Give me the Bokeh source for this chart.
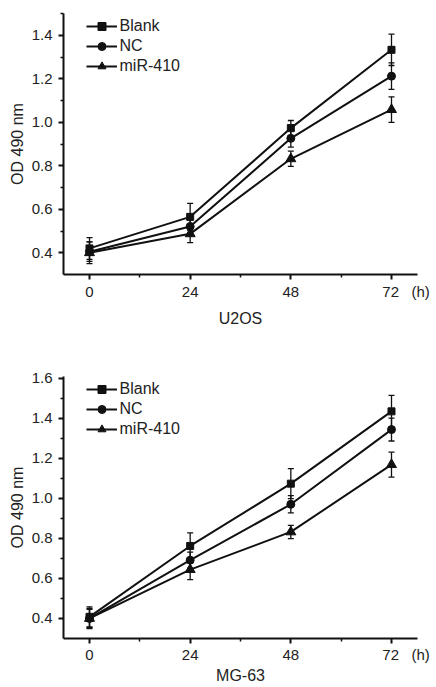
from bokeh.plotting import figure
from bokeh.models import (FixedTicker, Whisker, ColumnDataSource, Legend,
                          LegendItem, TeeHead, PrintfTickFormatter)
from bokeh.layouts import column
from bokeh.embed import file_html
from bokeh.resources import INLINE

hours = [0, 24, 48, 72]
series_names = ["Blank", "NC", "miR-410"]
markers = ["square", "circle", "triangle"]
marker_sizes = [7, 8, 10]

x_ticks = [0, 24, 48, 72]
x_minor = [12, 36, 60]
x_unit_label = "(h)"

# U2OS
u2os_blank = [0.420, 0.565, 0.973, 1.333]
u2os_blank_err = [0.050, 0.062, 0.035, 0.072]
u2os_nc = [0.405, 0.521, 0.926, 1.212]
u2os_nc_err = [0.045, 0.030, 0.040, 0.061]
u2os_mir = [0.400, 0.487, 0.832, 1.058]
u2os_mir_err = [0.050, 0.040, 0.035, 0.059]
u2os_y_ticks = [0.4, 0.6, 0.8, 1.0, 1.2, 1.4]
u2os_y_minor = [0.5, 0.7, 0.9, 1.1, 1.3, 1.5]

# MG-63
mg63_blank = [0.408, 0.762, 1.073, 1.434]
mg63_blank_err = [0.050, 0.065, 0.075, 0.080]
mg63_nc = [0.400, 0.691, 0.970, 1.343]
mg63_nc_err = [0.045, 0.040, 0.043, 0.057]
mg63_mir = [0.400, 0.644, 0.832, 1.168]
mg63_mir_err = [0.050, 0.050, 0.033, 0.062]
mg63_y_ticks = [0.4, 0.6, 0.8, 1.0, 1.2, 1.4, 1.6]
mg63_y_minor = [0.5, 0.7, 0.9, 1.1, 1.3, 1.5]

FONT = "Liberation Sans"
TXT = "#222222"
INK = "#111111"
NBSP = "\u00a0"


def make_panel(cell_line, vals, errs, y_range, y_ticks, y_minor, height,
               b_top, b_bottom, legend_y, x_std, xl_std):
    p = figure(width=436, height=height, x_range=(-6.2, 78.2), y_range=y_range,
               output_backend="svg", toolbar_location=None,
               min_border_left=63, min_border_right=19,
               min_border_top=b_top, min_border_bottom=b_bottom)
    p.outline_line_color = None
    p.grid.visible = False
    p.background_fill_color = "white"

    p.xaxis.ticker = FixedTicker(ticks=x_ticks, minor_ticks=x_minor)
    # last tick carries the unit "(h)" to its right; the label is padded on the
    # left so that the number itself stays centred on its tick
    last = x_ticks[-1]
    p.xaxis.major_label_overrides = {
        last: NBSP * 7 + str(last) + NBSP * 3 + x_unit_label}
    p.yaxis.ticker = FixedTicker(ticks=y_ticks, minor_ticks=y_minor)
    p.yaxis.formatter = PrintfTickFormatter(format="%.1f")
    p.xaxis.axis_label = cell_line
    p.yaxis.axis_label = "OD 490 nm"
    for ax in (p.xaxis, p.yaxis):
        ax.axis_line_width = 2
        ax.axis_line_color = INK
        ax.major_tick_line_width = 2
        ax.major_tick_line_color = INK
        ax.major_tick_out = 5
        ax.major_tick_in = 0
        ax.minor_tick_line_width = 1.5
        ax.minor_tick_line_color = INK
        ax.minor_tick_out = 3
        ax.minor_tick_in = 0
        ax.major_label_text_font = FONT
        ax.major_label_text_font_size = "15px"
        ax.major_label_text_color = TXT
        ax.axis_label_text_font = FONT
        ax.axis_label_text_font_size = "16px"
        ax.axis_label_text_font_style = "normal"
        ax.axis_label_text_color = TXT
    p.xaxis.major_label_standoff = x_std
    p.xaxis.axis_label_standoff = xl_std
    p.yaxis.major_label_standoff = 6
    p.yaxis.axis_label_standoff = 3

    items = []
    for name, mk, ms, v, e in zip(series_names, markers, marker_sizes, vals, errs):
        src = ColumnDataSource(dict(
            x=hours, y=v,
            upper=[a + b for a, b in zip(v, e)],
            lower=[a - b for a, b in zip(v, e)]))
        w = Whisker(source=src, base="x", upper="upper", lower="lower",
                    line_width=1.3, line_color=INK,
                    upper_head=TeeHead(size=6, line_width=1.3, line_color=INK),
                    lower_head=TeeHead(size=6, line_width=1.3, line_color=INK))
        p.add_layout(w)
        lr = p.line("x", "y", source=src, line_width=2, line_color=INK)
        sr = p.scatter("x", "y", source=src, marker=mk, size=ms,
                       fill_color=INK, line_color=INK)
        items.append(LegendItem(label=name, renderers=[lr, sr]))

    leg = Legend(items=items, location=(22.5, legend_y),
                 border_line_color=None, background_fill_alpha=0,
                 padding=0, margin=0, spacing=0,
                 glyph_width=31, glyph_height=20, label_height=20,
                 label_standoff=3, label_text_font=FONT,
                 label_text_font_size="16px", label_text_color=TXT)
    p.add_layout(leg)
    return p


p1 = make_panel("U2OS", [u2os_blank, u2os_nc, u2os_mir],
                [u2os_blank_err, u2os_nc_err, u2os_mir_err],
                (0.3, 1.5), u2os_y_ticks, u2os_y_minor,
                340, 13, 66, 198, 3, 7)
p2 = make_panel("MG-63", [mg63_blank, mg63_nc, mg63_mir],
                [mg63_blank_err, mg63_nc_err, mg63_mir_err],
                (0.3, 1.608), mg63_y_ticks, mg63_y_minor,
                347, 36, 49, 199, 2, 1)

layout = column(p1, p2, spacing=0)
open("out.html", "w").write(file_html(layout, INLINE))
